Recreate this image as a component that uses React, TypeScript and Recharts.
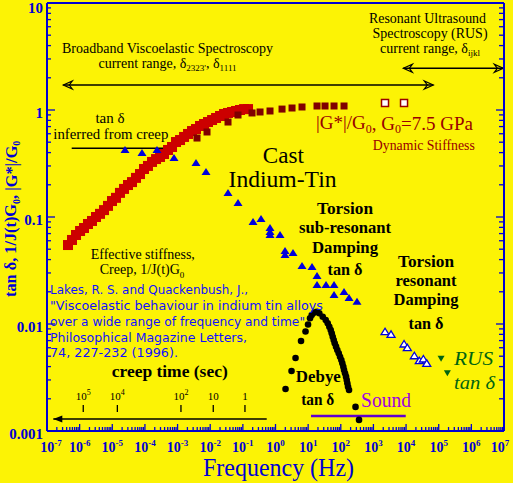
import React from 'react';
import { ComposedChart, XAxis, YAxis, Scatter, ReferenceLine, ReferenceDot } from 'recharts';

const W = 513;
const H = 483;
const BG = '#fcf305';
const BLUE = '#0000d4';
const REF_BLUE = '#1010ff';
const DARK_RED = '#990000';
const SERIF = '"Liberation Serif", "Times New Roman", serif';
const SANS = '"DejaVu Sans", sans-serif';

// ---- axis ticks ----
const X_MAJOR = [1e-7, 1e-6, 1e-5, 1e-4, 1e-3, 1e-2, 1e-1, 1, 10, 100, 1e3, 1e4, 1e5, 1e6, 1e7];
const X_TICK_EXPONENTS = ['-7', '-6', '-5', '-4', '-3', '-2', '-1', '0', '1', '2', '3', '4', '5', '6', '7'];
const Y_MAJOR = [0.001, 0.01, 0.1, 1, 10];
const Y_TICK_LABELS = ['0.001', '0.01', '0.1', '1', '10'];
const MINOR_MULT = [2, 3, 4, 5, 6, 7, 8, 9];
const X_TICKS = [...X_MAJOR, ...X_MAJOR.slice(0, -1).flatMap((d) => MINOR_MULT.map((m) => m * d))];
const Y_TICKS = [...Y_MAJOR, ...Y_MAJOR.slice(0, -1).flatMap((d) => MINOR_MULT.map((m) => m * d))];

// creep time scale (seconds) and its frequency positions
const CREEP_TIME_BASE = ['10', '10', '10', '10', '1'];
const CREEP_TIME_EXP = ['5', '4', '2', '', ''];
const CREEP_TIME_FREQ = [1.29e-6, 1.43e-5, 1.27e-3, 1.24e-2, 0.116];

// ---- series: [frequency Hz, value] ----
const creepStiffness: [number, number][] = [
  [4.4e-7, 0.0547], [5.83e-7, 0.061], [7.74e-7, 0.0679], [1.03e-6, 0.074], [1.36e-6, 0.0789],
  [1.8e-6, 0.086], [2.39e-6, 0.0918], [3.17e-6, 0.1], [4.21e-6, 0.107], [5.58e-6, 0.116],
  [7.39e-6, 0.127], [9.8e-6, 0.141], [1.3e-5, 0.151], [1.72e-5, 0.168], [2.29e-5, 0.183],
  [3.03e-5, 0.199], [4.02e-5, 0.212], [5.33e-5, 0.232], [7.07e-5, 0.252], [9.37e-5, 0.281],
  [1.24e-4, 0.3], [1.65e-4, 0.327], [2.19e-4, 0.348], [2.9e-4, 0.364], [3.84e-4, 0.388],
  [5.1e-4, 0.423], [6.76e-4, 0.451], [8.96e-4, 0.502], [1.19e-3, 0.524], [1.58e-3, 0.56],
  [2.09e-3, 0.597], [2.77e-3, 0.636], [3.67e-3, 0.664], [4.87e-3, 0.709], [6.46e-3, 0.74],
  [8.56e-3, 0.772], [1.14e-2, 0.806], [1.51e-2, 0.842], [2.0e-2, 0.879], [2.65e-2, 0.918],
  [3.51e-2, 0.938], [4.66e-2, 0.958], [6.17e-2, 0.979], [8.18e-2, 1.0], [0.109, 1.02], [0.144, 1.02],
];

const dynamicStiffness: [number, number][] = [
  [3.94e-3, 0.547], [7.98e-3, 0.623], [3.51e-2, 0.772], [7.11e-2, 0.898], [0.191, 0.938],
  [0.336, 0.958], [0.679, 0.979], [1.585, 1.02], [3.21, 1.044], [6.49, 1.067],
  [18.7, 1.09], [32.9, 1.09], [62.1, 1.09], [125.7, 1.09],
];

const dynamicStiffnessHigh: [number, number][] = [[2265, 1.163], [8660, 1.163]];

const tanDeltaCreepTorsion: [number, number][] = [
  [2.45e-5, 0.423], [8.14e-5, 0.396], [2.34e-4, 0.423], [7.78e-4, 0.356], [3.67e-3, 0.32],
  [7.43e-3, 0.263], [3.51e-2, 0.168], [7.11e-2, 0.135], [0.205, 0.0898], [0.36, 0.0958],
  [0.679, 0.0789], [0.679, 0.0724], [0.679, 0.0679], [1.376, 0.0679], [1.957, 0.0481],
  [1.957, 0.0441], [3.44, 0.0461], [6.49, 0.0348], [13.15, 0.0341], [18.7, 0.0281],
  [18.7, 0.0231], [35.3, 0.0231], [62.1, 0.0231], [62.1, 0.0187], [125.7, 0.0199],
  [178.9, 0.0175], [314, 0.0161],
];

const debyeTanDelta: [number, number][] = [
  [2.03, 0.00247], [3.1, 0.00364], [4.11, 0.00481], [6.05, 0.00694], [8.31, 0.00851],
  [9.92, 0.00989], [11.42, 0.01131], [12.88, 0.01214], [15.14, 0.01275], [18.32, 0.01303],
  [22.0, 0.01259], [27.98, 0.0117], [34.56, 0.0109], [39.81, 0.01015], [44.56, 0.00944],
  [49.18, 0.00879], [52.8, 0.00818], [56.6, 0.00761], [60.8, 0.00709], [65.2, 0.0066],
  [71.5, 0.00614], [78.3, 0.00571], [86.5, 0.00532], [94.8, 0.00495], [103.9, 0.00461],
  [111.5, 0.00429], [119.6, 0.00399], [125.7, 0.00372], [134.9, 0.00346], [144.7, 0.00322],
  [152.1, 0.003], [158.7, 0.00279], [166.7, 0.00259], [178.9, 0.00242], [282.9, 0.00168],
  [362.1, 0.00127],
];

const tanDeltaResonant: [number, number][] = [
  [2265, 0.00847], [3460, 0.00801], [8660, 0.0065], [10930, 0.00601], [17910, 0.00505],
  [25480, 0.00454], [33800, 0.00471], [42950, 0.00429],
];

const rusTanDelta: [number, number][] = [[1.18e5, 0.00474], [1.84e5, 0.00346]];

const pts = (a: [number, number][]) => a.map(([x, y]) => ({ x, y }));

const isMajor = (v: number, majors: number[]) => majors.findIndex((m) => Math.abs(v / m - 1) < 1e-6);

// ---- tick renderers ----
const BottomTick = (p: any) => {
  const i = isMajor(p.payload.value, X_MAJOR);
  const { x, y } = p;
  const shift = i === 0 ? 4 : i === X_MAJOR.length - 1 ? -4 : 0;
  return (
    <g>
      <line x1={x} x2={x} y1={y} y2={y - (i >= 0 ? 7 : 4)} stroke={BLUE} strokeWidth={1.3} />
      {i >= 0 && (
        <text x={x + shift} y={y + 21} textAnchor="middle" fontFamily={SERIF} fontWeight="bold" fontSize={14} fill={BLUE}>
          10<tspan dy={-6} fontSize={9}>{X_TICK_EXPONENTS[i]}</tspan>
        </text>
      )}
    </g>
  );
};

const TopTick = (p: any) => {
  const i = isMajor(p.payload.value, X_MAJOR);
  const { x, y } = p;
  return <line x1={x} x2={x} y1={y} y2={y + (i >= 0 ? 7 : 4)} stroke={BLUE} strokeWidth={1.3} />;
};

const LeftTick = (p: any) => {
  const i = isMajor(p.payload.value, Y_MAJOR);
  const { x, y } = p;
  const last = i === Y_MAJOR.length - 1;
  return (
    <g>
      <line x1={x} x2={x + (i >= 0 ? 8 : 4)} y1={y} y2={y} stroke={BLUE} strokeWidth={1.3} />
      {i >= 0 && (
        <text x={x - 4} y={y + (last ? 10 : 8)} textAnchor="end" fontFamily={SERIF} fontWeight="bold" fontSize={15} fill={BLUE}>
          {Y_TICK_LABELS[i]}
        </text>
      )}
    </g>
  );
};

const RightTick = (p: any) => {
  const i = isMajor(p.payload.value, Y_MAJOR);
  const { x, y } = p;
  return <line x1={x} x2={x - (i >= 0 ? 8 : 5)} y1={y} y2={y} stroke={BLUE} strokeWidth={1.3} />;
};

// ---- marker shapes ----
const redSquare = (p: any) => <rect x={p.cx - 5} y={p.cy - 5} width={10} height={10} fill="#cc0000" />;
const darkSquare = (p: any) => <rect x={p.cx - 3.5} y={p.cy - 3.5} width={7} height={7} fill="#800000" />;
const hollowSquare = (p: any) => (
  <rect x={p.cx - 3.5} y={p.cy - 3.5} width={7} height={7} fill="#ffffff" stroke={DARK_RED} strokeWidth={1.5} />
);
const blueTriangle = (p: any) => (
  <polygon points={`${p.cx},${p.cy - 4} ${p.cx - 4.5},${p.cy + 3} ${p.cx + 4.5},${p.cy + 3}`} fill="#0000dd" />
);
const blackCircle = (p: any) => <circle cx={p.cx} cy={p.cy} r={3.3} fill="#000" />;
const whiteTriangle = (p: any) => (
  <polygon points={`${p.cx},${p.cy - 3.5} ${p.cx - 4},${p.cy + 3} ${p.cx + 4},${p.cy + 3}`} fill="#fff" stroke="#0000dd" strokeWidth={1.3} />
);
const greenTriangle = (p: any) => (
  <polygon points={`${p.cx - 3.5},${p.cy - 3} ${p.cx + 3.5},${p.cy - 3} ${p.cx},${p.cy + 3}`} fill="#006411" />
);

// ---- annotation helpers ----
const AX = { xAxisId: 'b', yAxisId: 'l' } as const;

function note(key: string, lx: number, ly: number, render: (cx: number, cy: number) => React.ReactElement) {
  return (
    <ReferenceDot
      key={key}
      {...AX}
      x={10 ** lx}
      y={10 ** ly}
      r={0}
      ifOverflow="visible"
      shape={(p: any) => render(p.cx, p.cy)}
    />
  );
}

type TOpt = { size?: number; bold?: boolean; italic?: boolean; color?: string; anchor?: string; len?: number; font?: string };
function T(cx: number, cy: number, content: React.ReactNode, o: TOpt = {}) {
  const extra: any = o.len ? { textLength: o.len, lengthAdjust: 'spacingAndGlyphs' } : {};
  return (
    <text
      x={cx}
      y={cy}
      textAnchor={(o.anchor as any) || 'middle'}
      dominantBaseline="central"
      fontFamily={o.font || SERIF}
      fontSize={o.size || 14}
      fontWeight={o.bold ? 'bold' : 'normal'}
      fontStyle={o.italic ? 'italic' : 'normal'}
      fill={o.color || '#000'}
      {...extra}
    >
      {content}
    </text>
  );
}

const openHead = (tip: number, y: number, dir: number) => {
  const b = tip - dir * 9;
  const m = tip - dir * 6;
  return <polygon points={`${tip},${y} ${b},${y - 4} ${m},${y} ${b},${y + 4}`} fill="none" stroke="#000" strokeWidth={1.2} />;
};

const doubleArrow = (p: any) => (
  <g>
    <line x1={p.x1} y1={p.y1} x2={p.x2} y2={p.y2} stroke="#000" strokeWidth={1.5} />
    {openHead(Math.min(p.x1, p.x2), p.y1, -1)}
    {openHead(Math.max(p.x1, p.x2), p.y1, 1)}
  </g>
);

const leftFilledArrow = (p: any) => {
  const x = Math.min(p.x1, p.x2);
  return (
    <g>
      <line x1={p.x1} y1={p.y1} x2={p.x2} y2={p.y2} stroke="#000" strokeWidth={1.5} />
      <polygon points={`${x},${p.y1} ${x + 9},${p.y1 - 3.5} ${x + 9},${p.y1 + 3.5}`} fill="#000" />
    </g>
  );
};

const seg = (key: string, lx1: number, ly1: number, lx2: number, ly2: number, props: any) => (
  <ReferenceLine
    key={key}
    {...AX}
    ifOverflow="visible"
    segment={[{ x: 10 ** lx1, y: 10 ** ly1 }, { x: 10 ** lx2, y: 10 ** ly2 }]}
    {...props}
  />
);

const axisCommon = {
  type: 'number' as const,
  scale: 'log' as const,
  allowDataOverflow: true,
  interval: 0 as const,
  tickSize: 0,
  tickMargin: 0,
  tickLine: false,
  axisLine: { stroke: BLUE, strokeWidth: 2 },
};

export default function App() {
  const refLines = [
    'Lakes, R. S. and Quackenbush, J.,',
    '"Viscoelastic behaviour in indium tin alloys',
    'over a wide range of frequency and time"',
    'Philosophical Magazine Letters,',
    '74, 227-232 (1996).',
  ];
  const refY = [-1.6822, -1.829, -1.9841, -2.128, -2.2738];
  const refW = [198, 273, 255, 197, 128];

  return (
    <div style={{ position: 'absolute', left: 0, top: 0, width: W, height: H, background: BG }}>
      <ComposedChart width={W} height={H} margin={{ top: 2, right: 8, bottom: 51, left: 46 }}>
        <XAxis
          {...axisCommon}
          xAxisId="b"
          dataKey="x"
          domain={[1e-7, 1e7]}
          orientation="bottom"
          height={1}
          ticks={X_TICKS}
          tick={(p: any) => <BottomTick {...p} />}
        />
        <XAxis
          {...axisCommon}
          xAxisId="t"
          domain={[1e-7, 1e7]}
          orientation="top"
          height={1}
          ticks={X_TICKS}
          tick={(p: any) => <TopTick {...p} />}
        />
        <YAxis
          {...axisCommon}
          yAxisId="l"
          dataKey="y"
          domain={[0.001, 10]}
          orientation="left"
          width={1}
          ticks={Y_TICKS}
          tick={(p: any) => <LeftTick {...p} />}
        />
        <YAxis
          {...axisCommon}
          yAxisId="r"
          domain={[0.001, 10]}
          orientation="right"
          width={1}
          ticks={Y_TICKS}
          tick={(p: any) => <RightTick {...p} />}
        />

        {/* reference lines / arrows */}
        {seg('bb', -6.501, 0.2336, 4.835, 0.2336, { shape: doubleArrow })}
        {seg('rus', 3.916, 0.3897, 6.98, 0.3897, { shape: doubleArrow })}
        {seg('tanline', -6.243, -0.358, -3.385, -0.358, { stroke: '#000', strokeWidth: 1.5 })}
        {seg('creeparrow', -6.807, -2.8879, -0.269, -2.8879, { shape: leftFilledArrow })}
        {seg('sound', 1.088, -2.8598, 3.99, -2.8598, { stroke: '#6000d0', strokeWidth: 2.5 })}
        {CREEP_TIME_FREQ.map((f, i) =>
          seg('ct' + i, Math.log10(f), -2.757, Math.log10(f), -2.8224, { stroke: '#000', strokeWidth: 1.3 })
        )}

        <Scatter {...AX} data={pts(creepStiffness)} shape={redSquare} isAnimationActive={false} />
        <Scatter {...AX} data={pts(dynamicStiffness)} shape={darkSquare} isAnimationActive={false} />
        <Scatter {...AX} data={pts(dynamicStiffnessHigh)} shape={hollowSquare} isAnimationActive={false} />
        <Scatter {...AX} data={pts(tanDeltaCreepTorsion)} shape={blueTriangle} isAnimationActive={false} />
        <Scatter {...AX} data={pts(debyeTanDelta)} shape={blackCircle} isAnimationActive={false} />
        <Scatter {...AX} data={pts(tanDeltaResonant)} shape={whiteTriangle} isAnimationActive={false} />
        <Scatter {...AX} data={pts(rusTanDelta)} shape={greenTriangle} isAnimationActive={false} />

        {/* annotations */}
        {note('bb1', -3.308, 0.579, (x, y) => T(x, y, 'Broadband Viscoelastic Spectroscopy', { len: 211 }))}
        {note('bb2', -3.308, 0.439, (x, y) =>
          T(x, y, <>current range, δ<tspan dy={5} fontSize={9}>2323'</tspan><tspan dy={-5}>, δ</tspan><tspan dy={5} fontSize={9}>1111</tspan></>)
        )}
        {note('r1', 4.657, 0.857, (x, y) => T(x, y, 'Resonant Ultrasound', { len: 117 }))}
        {note('r2', 4.734, 0.717, (x, y) => T(x, y, 'Spectroscopy (RUS)', { len: 115 }))}
        {note('r3', 4.734, 0.577, (x, y) => T(x, y, <>current range, δ<tspan dy={5} fontSize={9}>ijkl</tspan></>))}
        {note('tc1', -5.07, -0.0776, (x, y) => T(x, y, 'tan δ', { size: 15 }))}
        {note('tc2', -5.045, -0.2243, (x, y) => T(x, y, 'inferred from creep', { len: 115, size: 15 }))}
        {note('g', 1.241, -0.1187, (x, y) =>
          T(x, y, <>|G*|/G<tspan dy={6} fontSize={12}>0</tspan><tspan dy={-6}>, G</tspan><tspan dy={6} fontSize={12}>0</tspan><tspan dy={-6}>=7.5 GPa</tspan></>, { size: 19, color: DARK_RED, anchor: 'start' })
        )}
        {note('ds', 4.544, -0.3336, (x, y) => T(x, y, 'Dynamic Stiffness', { len: 102, color: DARK_RED }))}
        {note('cast', 0.2396, -0.4206, (x, y) => T(x, y, 'Cast', { size: 24, len: 41 }))}
        {note('it', 0.215, -0.6477, (x, y) => T(x, y, 'Indium-Tin', { size: 24, len: 108 }))}
        {note('s1', 2.13, -0.9252, (x, y) => T(x, y, 'Torsion', { size: 17, bold: true, len: 56 }))}
        {note('s2', 2.13, -1.1, (x, y) => T(x, y, 'sub-resonant', { size: 17, bold: true, len: 92 }))}
        {note('s3', 2.13, -1.2804, (x, y) => T(x, y, 'Damping', { size: 17, bold: true, len: 66 }))}
        {note('s4', 2.13, -1.486, (x, y) => T(x, y, 'tan δ', { size: 17, bold: true, len: 35 }))}
        {note('t1', 4.611, -1.4178, (x, y) => T(x, y, 'Torsion', { size: 17, bold: true, len: 56 }))}
        {note('t2', 4.611, -1.5953, (x, y) => T(x, y, 'resonant', { size: 17, bold: true, len: 61 }))}
        {note('t3', 4.611, -1.7757, (x, y) => T(x, y, 'Damping', { size: 17, bold: true, len: 65 }))}
        {note('t4', 4.611, -1.9935, (x, y) => T(x, y, 'tan δ', { size: 17, bold: true, len: 35 }))}
        {note('rus1', 5.469, -2.3271, (x, y) => T(x, y, 'RUS', { size: 19, italic: true, color: '#006411', anchor: 'start', len: 39 }))}
        {note('rus2', 5.469, -2.5486, (x, y) => T(x, y, 'tan δ', { size: 19, italic: true, color: '#006411', anchor: 'start', len: 41 }))}
        {note('ef1', -4.065, -1.3551, (x, y) => T(x, y, 'Effective stiffness,', { len: 104 }))}
        {note('ef2', -4.089, -1.4953, (x, y) => T(x, y, <>Creep, 1/J(t)G<tspan dy={5} fontSize={9}>0</tspan></>))}
        {refLines.map((s, i) =>
          note('ref' + i, -6.908, refY[i], (x, y) =>
            T(x, y, s, { font: SANS, size: 12, color: REF_BLUE, anchor: 'start', len: refW[i] })
          )
        )}
        {note('ct', -3.241, -2.4458, (x, y) => T(x, y, 'creep time (sec)', { size: 17, bold: true, len: 116 }))}
        {CREEP_TIME_FREQ.map((f, i) =>
          note('ctl' + i, Math.log10(f), -2.6729, (x, y) =>
            T(x, y, CREEP_TIME_EXP[i] ? <>{CREEP_TIME_BASE[i]}<tspan dy={-4} fontSize={8}>{CREEP_TIME_EXP[i]}</tspan></> : CREEP_TIME_BASE[i], { size: 11 })
          )
        )}
        {note('deb1', 1.312, -2.4953, (x, y) => T(x, y, 'Debye', { size: 17, bold: true, len: 45 }))}
        {note('deb2', 1.294, -2.7075, (x, y) => T(x, y, 'tan δ', { size: 17, bold: true, len: 33 }))}
        {note('snd', 3.386, -2.7103, (x, y) => T(x, y, 'Sound', { size: 20, color: '#a000e0', len: 50 }))}
        {note('xl', 0.0925, -3.345, (x, y) => T(x, y, 'Frequency (Hz)', { size: 25, color: BLUE, len: 151 }))}
        {note('yl', -8.118, -1.7477, (x, y) => (
          <g transform={`rotate(-90 ${x} ${y})`}>
            {T(x, y, <>tan δ, 1/J(t)G<tspan dy={5} fontSize={10}>0</tspan><tspan dy={-5}>, |G*|/G</tspan><tspan dy={5} fontSize={10}>0</tspan></>, { size: 16.3, bold: true, color: BLUE, anchor: 'start' })}
          </g>
        ))}
      </ComposedChart>
    </div>
  );
}
